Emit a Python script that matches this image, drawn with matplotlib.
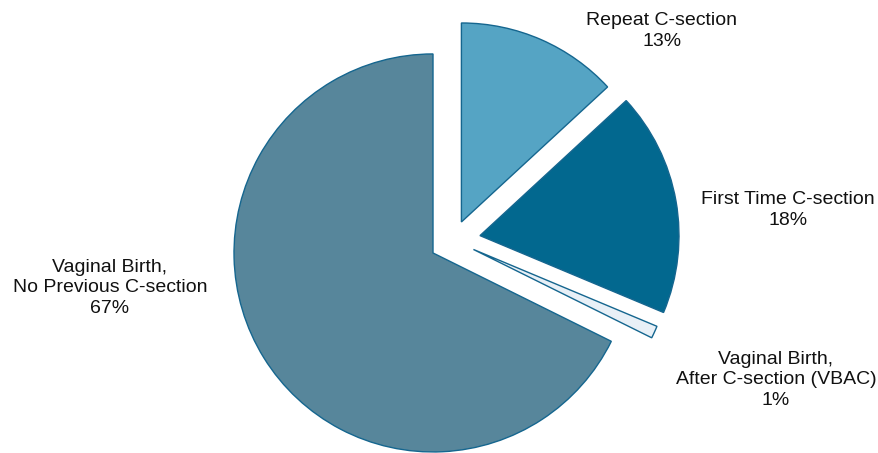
import matplotlib
matplotlib.use("Agg")
import matplotlib.pyplot as plt

categories = ["Repeat C-section", "First Time C-section",
              "Vaginal Birth,\nAfter C-section (VBAC)",
              "Vaginal Birth,\nNo Previous C-section"]
values = [13, 18, 1, 67]
colors = ["#55A4C4", "#02688F", "#E8F0F7", "#57869B"]
label_pos = [(662, 31), (788, 210), (776, 380), (110, 288)]
explode_px = [20, 27, 22, 24]

W, H = 879, 453
R = 199
fig = plt.figure(figsize=(W / 100, H / 100), dpi=100)
ax = fig.add_axes([0, 0, 1, 1])
ax.pie(values, explode=explode_px, startangle=90, counterclock=False,
       center=(453.4, H - 240.3), radius=R, colors=colors,
       wedgeprops=dict(edgecolor="#15668F", linewidth=1.0))
ax.set_xlim(0, W)
ax.set_ylim(0, H)
ax.set_aspect("equal")
ax.axis("off")

for cat, v, (x, y) in zip(categories, values, label_pos):
    ax.text(x, H - y, f"{cat}\n{v}%", ha="center", va="center",
            fontsize=14, family=["Liberation Sans", "DejaVu Sans"],
            color="#111111", linespacing=1.3)

fig.savefig("out.png", dpi=100)
